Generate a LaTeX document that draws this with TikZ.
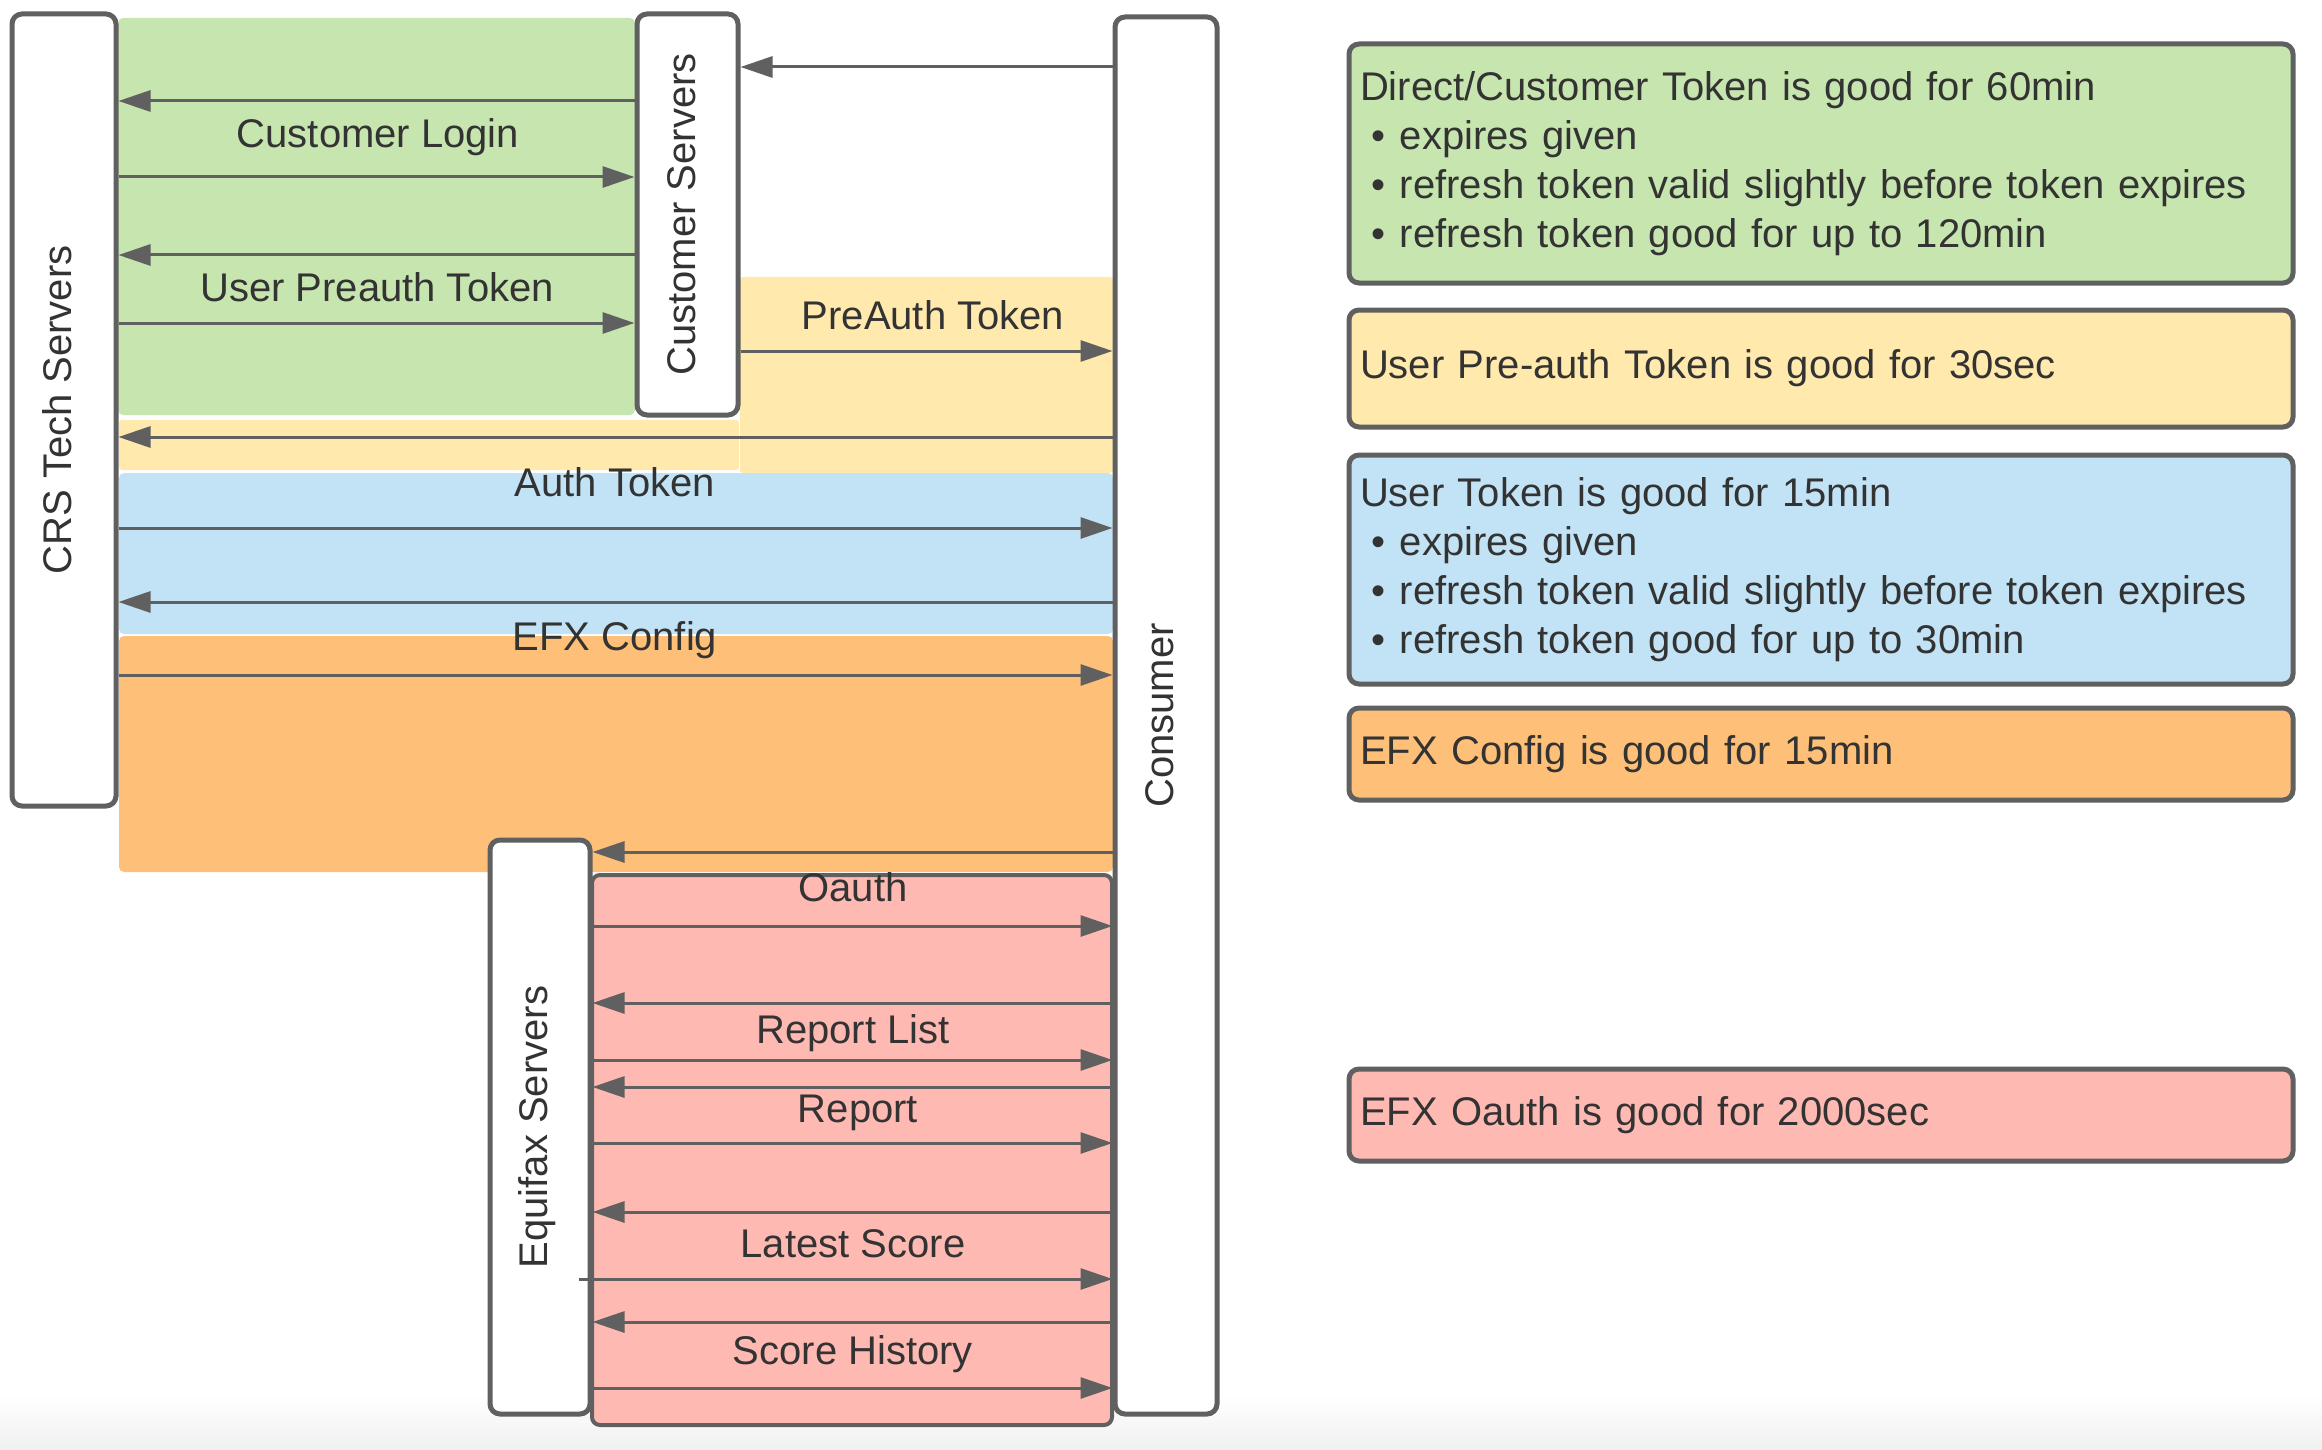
\documentclass[tikz,border=0pt]{standalone}
\usepackage{fontspec}
\usepackage{graphicx}
\setmainfont{Liberation Sans}
\usetikzlibrary{arrows.meta}
\definecolor{cgreen}{HTML}{C7E5AF}
\definecolor{cyellow}{HTML}{FFE9AD}
\definecolor{cblue}{HTML}{C2E3F5}
\definecolor{corange}{HTML}{FEC078}
\definecolor{cpink}{HTML}{FFB9B3}
\definecolor{linegray}{HTML}{606060}
\definecolor{txtgray}{HTML}{333333}
\definecolor{shadegray}{HTML}{F0F0F0}
\begin{document}
\begin{tikzpicture}[x=1pt,y=-1pt,
  lane/.style={draw=linegray, line width=5pt, fill=white, rounded corners=10pt,
    inner sep=0pt, text=txtgray, font=\fontsize{40}{48}\selectfont},
  msg/.style={draw=linegray, line width=3pt, -{Triangle[length=32pt,width=21pt]}},
  lbl/.style={inner sep=0pt, text=txtgray, font=\fontsize{40}{49}\selectfont},
  note/.style={draw=linegray, line width=5pt, rounded corners=10pt,
    minimum width=944pt, text width=922pt, inner xsep=11pt, inner ysep=0pt,
    align=left, text=txtgray, font=\fontsize{40}{49}\selectfont},
  region/.style={rounded corners=5pt}
]
\useasboundingbox (0,0) rectangle (2322,1450);
\shade[top color=white, bottom color=shadegray] (0,1395) rectangle (2322,1450);

% background regions
\fill[region, cgreen] (118,18) rectangle (635,415);
\fill[rounded corners=3pt, cyellow] (119,420) rectangle (739,470);
\fill[rounded corners=3pt, cyellow] (740,277) rectangle (1113,473);
\fill[region, cblue] (119,473) rectangle (1113,634);
\fill[region, corange] (119,636) rectangle (1113,872);
\filldraw[rounded corners=8pt, fill=cpink, draw=linegray, line width=4pt] (592,875) rectangle (1112,1425);

% lifeline boxes
\node[lane, minimum width=104pt, minimum height=792pt] (crs) at (64,410) {\rotatebox{90}{CRS Tech Servers}\hspace*{14pt}};
\node[lane, minimum width=101pt, minimum height=401pt] (cust) at (687.5,214.5) {\rotatebox{90}{Customer Servers}\hspace*{12pt}};
\node[lane, minimum width=102pt, minimum height=1397pt] (cons) at (1166,715.5) {\rotatebox{90}{Consumer}\hspace*{12pt}};
\node[lane, minimum width=100pt, minimum height=574pt] (efx) at (540,1127) {\rotatebox{90}{Equifax Servers}\hspace*{6pt}};

% messages
\draw[msg] (cons.west |- 0,67) -- (cust.east |- 0,67);
\draw[msg] (cust.west |- 0,101) -- (crs.east |- 0,101);
\draw[msg] (crs.east |- 0,177) -- (cust.west |- 0,177);
\draw[msg] (cust.west |- 0,255) -- (crs.east |- 0,255);
\draw[msg] (crs.east |- 0,323) -- (cust.west |- 0,323);
\draw[msg] (cust.east |- 0,351) -- (cons.west |- 0,351);
\draw[msg] (cons.west |- 0,437) -- (crs.east |- 0,437);
\draw[msg] (crs.east |- 0,528) -- (cons.west |- 0,528);
\draw[msg] (cons.west |- 0,602) -- (crs.east |- 0,602);
\draw[msg] (crs.east |- 0,675) -- (cons.west |- 0,675);
\draw[msg] (cons.west |- 0,852) -- (efx.east |- 0,852);
\draw[msg] (efx.east |- 0,926) -- (cons.west |- 0,926);
\draw[msg] (cons.west |- 0,1003) -- (efx.east |- 0,1003);
\draw[msg] (efx.east |- 0,1060) -- (cons.west |- 0,1060);
\draw[msg] (cons.west |- 0,1087) -- (efx.east |- 0,1087);
\draw[msg] (efx.east |- 0,1143) -- (cons.west |- 0,1143);
\draw[msg] (cons.west |- 0,1212) -- (efx.east |- 0,1212);
\draw[msg] ([xshift=-14pt]efx.east |- 0,1279) -- (cons.west |- 0,1279);
\draw[msg] (cons.west |- 0,1322) -- (efx.east |- 0,1322);
\draw[msg] (efx.east |- 0,1388) -- (cons.west |- 0,1388);

% message labels
\node[lbl] (l1) at (378,137) {Customer Login};
\node[lbl] (l2) at (377,287) {User Preauth Token};
\node[lbl] (l3) at (933,315) {PreAuth Token};
\node[lbl] (l4) at (615,482) {Auth Token};
\node[lbl] (l5) at (615,640) {EFX Config};
\node[lbl] (l6) at (853,887) {Oauth};
\node[lbl] (l7) at (853,1033) {Report List};
\node[lbl] (l8) at (858,1113) {Report};
\node[lbl] (l9) at (853,1244) {Latest Score};
\node[lbl] (l10) at (853,1354) {Score History};

% notes
\newcommand{\bul}{\hspace*{11pt}\makebox[29pt][l]{\textbullet}}
\node[note, fill=cgreen, minimum height=239pt] (n1) at (1821,163.5) {Direct/Customer Token is good for 60min\\
\bul expires given\\
\bul refresh token valid slightly before token expires\\
\bul refresh token good for up to 120min};
\node[note, fill=cyellow, minimum height=117pt] (n2) at (1821,368.5) {User Pre-auth Token is good for 30sec};
\node[note, fill=cblue, minimum height=229pt] (n3) at (1821,569.5) {User Token is good for 15min\\
\bul expires given\\
\bul refresh token valid slightly before token expires\\
\bul refresh token good for up to 30min};
\node[note, fill=corange, minimum height=92pt] (n4) at (1821,754) {EFX Config is good for 15min};
\node[note, fill=cpink, minimum height=92pt] (n5) at (1821,1115) {EFX Oauth is good for 2000sec};
\end{tikzpicture}
\end{document}
